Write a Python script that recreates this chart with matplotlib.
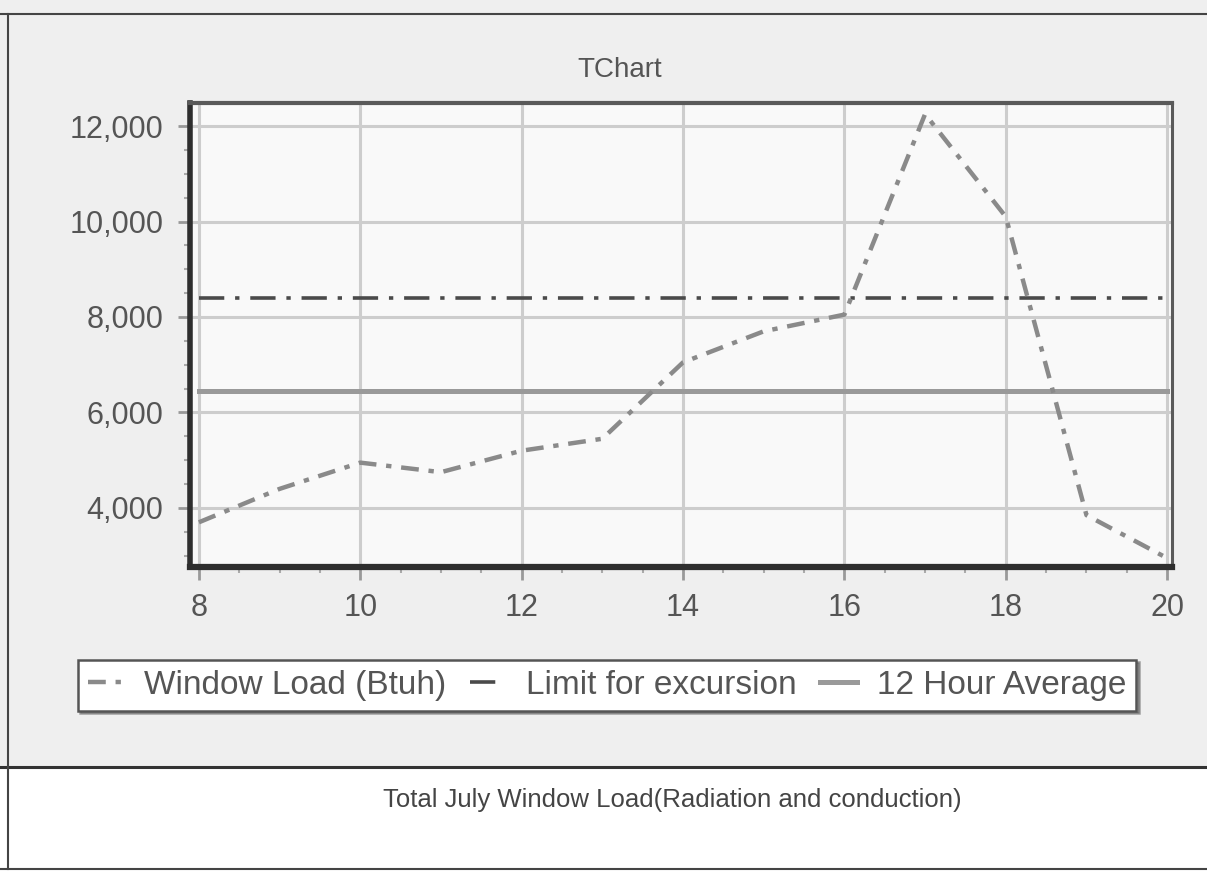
import numpy as np
import matplotlib
matplotlib.use("Agg")
import matplotlib.pyplot as plt
from matplotlib.ticker import MultipleLocator, StrMethodFormatter
from matplotlib.patches import Rectangle
from matplotlib.lines import Line2D

# Data
hours = [8, 9, 10, 11, 12, 13, 14, 15, 16, 17, 18, 19, 20]
window_load = [3700, 4400, 4950, 4750, 5200, 5450, 7050, 7700, 8050, 12250, 10100, 3850, 2950]
limit_excursion = 8400
avg_12h = 6450

series_labels = ["Window Load (Btuh)", "Limit for excursion", "12 Hour Average"]
chart_title = "TChart"
caption = "Total July Window Load(Radiation and conduction)"

plt.rcParams['font.family'] = ['Liberation Sans', 'DejaVu Sans']

W, H = 1207, 872
fig = plt.figure(figsize=(W / 100, H / 100), dpi=100, facecolor='#efefef')

# panel backgrounds / frame
fig.patches.append(Rectangle((0, 0), 1, 1 - 767 / H, transform=fig.transFigure,
                             facecolor='white', edgecolor='none', zorder=0))
fig.add_artist(Line2D([0, 1], [1 - 767 / H] * 2, color='#333333', lw=2.2))
fig.add_artist(Line2D([0, 1], [1 - 14 / H] * 2, color='#444444', lw=1.5))
fig.add_artist(Line2D([0, 1], [1 - 869 / H] * 2, color='#444444', lw=1.5))
fig.add_artist(Line2D([8 / W] * 2, [1 - 869 / H, 1 - 14 / H], color='#444444', lw=1.5))

left, right, top, bottom = 190, 1172, 103, 567
ax = fig.add_axes([left / W, 1 - bottom / H, (right - left) / W, (bottom - top) / H])
ax.set_facecolor('#f9f9f9')

ax.plot(hours, window_load, color='#8a8a8a', lw=3.2, dashes=(4, 2.2, 1.2, 2.2),
        label=series_labels[0], zorder=4)
ax.plot(hours, np.full(len(hours), limit_excursion), color='#4a4a4a', lw=2.6,
        dashes=(7, 3, 1.2, 3), label=series_labels[1], zorder=3)
ax.plot(hours, np.full(len(hours), avg_12h), color='#9a9a9a', lw=3.6,
        label=series_labels[2], zorder=3)

ax.set_xlim(7.89, 20.06)
ax.set_ylim(2764, 12482)

ax.xaxis.set_major_locator(MultipleLocator(2))
ax.xaxis.set_minor_locator(MultipleLocator(0.5))
ax.yaxis.set_major_locator(MultipleLocator(2000))
ax.yaxis.set_minor_locator(MultipleLocator(500))
ax.yaxis.set_major_formatter(StrMethodFormatter('{x:,.0f}'))
ax.set_yticks([4000, 6000, 8000, 10000, 12000])

ax.grid(True, which='major', color='#cdcdcd', lw=2.2, zorder=1)
ax.tick_params(which='major', length=9, width=2, color='#999999',
               labelsize=22, labelcolor='#555555', pad=10)
ax.tick_params(which='minor', length=4, width=1.5, color='#aaaaaa')

ax.spines['left'].set_linewidth(4)
ax.spines['left'].set_color('#2e2e2e')
ax.spines['bottom'].set_linewidth(4.5)
ax.spines['bottom'].set_color('#2e2e2e')
ax.spines['top'].set_linewidth(3)
ax.spines['top'].set_color('#5a5a5a')
ax.spines['right'].set_linewidth(2.2)
ax.spines['right'].set_color('#5a5a5a')

fig.text(620 / W, 1 - 70 / H, chart_title, ha='center', va='center',
         fontsize=20, color='#555555')

leg = fig.legend(loc='center', bbox_to_anchor=(607 / W, 1 - 685 / H), ncol=3,
                 fontsize=24, frameon=True, fancybox=False, shadow=True,
                 handlelength=1.1, handletextpad=0.6, columnspacing=0.7,
                 borderpad=0.3)
leg.get_frame().set_edgecolor('#555555')
leg.get_frame().set_linewidth(1.8)
leg.get_frame().set_facecolor('white')
for t in leg.get_texts():
    t.set_color('#555555')

fig.text(672 / W, 1 - 800 / H, caption, ha='center', va='center',
         fontsize=18.5, color='#444444')

fig.savefig("out.png", dpi=100, facecolor=fig.get_facecolor())
